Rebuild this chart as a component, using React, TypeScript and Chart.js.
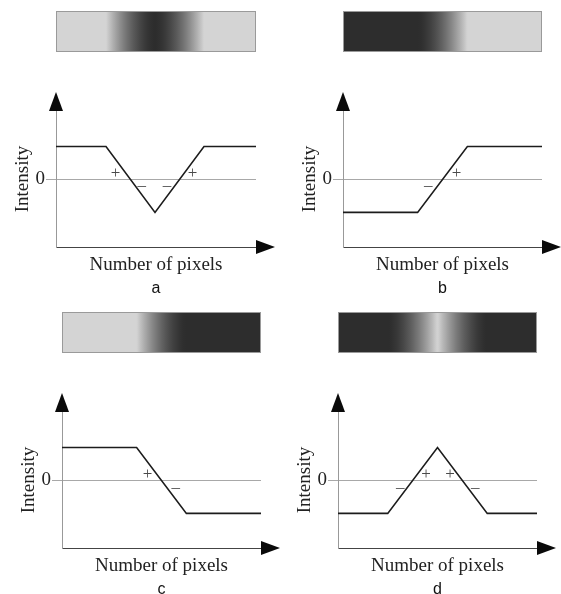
import React, { useEffect, useRef } from "react";
import { Chart, registerables } from "chart.js";

Chart.register(...registerables);

// ---------------- data ----------------
const xTitle = "Number of pixels";
const yTitle = "Intensity";
const yTickValues = [0];

const panelLabels = ["a", "b", "c", "d"];

// pixel position (0..10) and intensity for each profile
const pixelsA = [0, 2.5, 4.95, 7.4, 10];
const intensityA = [1, 1, -1, 1, 1];

const pixelsB = [0, 3.75, 6.25, 10];
const intensityB = [-1, -1, 1, 1];

const pixelsC = [0, 3.75, 6.25, 10];
const intensityC = [1, 1, -1, -1];

const pixelsD = [0, 2.5, 5, 7.5, 10];
const intensityD = [-1, -1, 1, -1, -1];

// sign annotations (x in pixels, y in intensity)
const signsA = [
  { x: 2.98, y: 0.18, t: "+" },
  { x: 4.29, y: -0.17, t: "\u2013" },
  { x: 5.55, y: -0.17, t: "\u2013" },
  { x: 6.83, y: 0.18, t: "+" },
];
const signsB = [
  { x: 4.29, y: -0.17, t: "\u2013" },
  { x: 5.71, y: 0.19, t: "+" },
];
const signsC = [
  { x: 4.3, y: 0.19, t: "+" },
  { x: 5.72, y: -0.2, t: "\u2013" },
];
const signsD = [
  { x: 3.13, y: -0.2, t: "\u2013" },
  { x: 4.42, y: 0.19, t: "+" },
  { x: 5.63, y: 0.19, t: "+" },
  { x: 6.9, y: -0.2, t: "\u2013" },
];

// ---------------- styling ----------------
const SERIF = '"Liberation Serif", "Times New Roman", serif';
const SANS = '"Liberation Sans", Arial, sans-serif';
const LIGHT = 212;
const DARK = 45;
const GAMMA = 1.6;

type Sign = { x: number; y: number; t: string };

function shade(v: number) {
  const t = Math.min(1, Math.max(0, (v + 1) / 2));
  const g = Math.round(DARK + Math.pow(t, GAMMA) * (LIGHT - DARK));
  return `rgb(${g},${g},${g})`;
}

function interp(xs: number[], ys: number[], xv: number) {
  for (let i = 0; i < xs.length - 1; i++) {
    if (xv >= xs[i] && xv <= xs[i + 1]) {
      const f = (xv - xs[i]) / (xs[i + 1] - xs[i] || 1);
      return ys[i] + f * (ys[i + 1] - ys[i]);
    }
  }
  return ys[ys.length - 1];
}

function makeDeco(xs: number[], ys: number[], signs: Sign[]) {
  return {
    id: "deco",
    afterDraw(chart: any) {
      const { ctx, chartArea: ca, scales } = chart;
      const xS = scales.x;
      const yS = scales.y;
      ctx.save();
      // gradient bar derived from the profile
      const barTop = ca.top - 100;
      const barH = 41;
      const w = ca.right - ca.left;
      const grad = ctx.createLinearGradient(ca.left, 0, ca.right, 0);
      const steps = Math.round(w);
      for (let p = 0; p <= steps; p++) {
        const px = ca.left + (p / steps) * w;
        const xv = xS.getValueForPixel(px);
        grad.addColorStop(p / steps, shade(interp(xs, ys, xv)));
      }
      ctx.fillStyle = grad;
      ctx.fillRect(ca.left, barTop, w, barH);
      ctx.strokeStyle = "#9a9a9a";
      ctx.lineWidth = 1;
      ctx.strokeRect(ca.left + 0.5, barTop + 0.5, w - 1, barH - 1);

      // arrows
      ctx.fillStyle = "#0a0a0a";
      ctx.beginPath();
      ctx.moveTo(ca.left - 7, ca.top);
      ctx.lineTo(ca.left + 7, ca.top);
      ctx.lineTo(ca.left, ca.top - 19);
      ctx.closePath();
      ctx.fill();
      ctx.beginPath();
      ctx.moveTo(ca.right, ca.bottom - 7);
      ctx.lineTo(ca.right, ca.bottom + 7);
      ctx.lineTo(ca.right + 19, ca.bottom);
      ctx.closePath();
      ctx.fill();

      // signs
      ctx.font = `17px ${SERIF}`;
      ctx.fillStyle = "#4a4a4a";
      ctx.textAlign = "center";
      ctx.textBaseline = "middle";
      signs.forEach((s) => {
        ctx.fillText(s.t, xS.getPixelForValue(s.x), yS.getPixelForValue(s.y));
      });
      ctx.restore();
    },
  };
}

type PanelProps = {
  left: number;
  top: number;
  padLeft: number;
  padRight: number;
  xs: number[];
  ys: number[];
  signs: Sign[];
  label: string;
};

const CANVAS_W = 281;
const CANVAS_H = 300;

function Panel({ left, top, padLeft, padRight, xs, ys, signs, label }: PanelProps) {
  const ref = useRef<HTMLCanvasElement | null>(null);
  useEffect(() => {
    if (!ref.current) return;
    const chart = new Chart(ref.current, {
      type: "line",
      data: {
        datasets: [
          {
            data: xs.map((x, i) => ({ x, y: ys[i] })),
            borderColor: "#1c1c1c",
            borderWidth: 1.6,
            pointRadius: 0,
            tension: 0,
            fill: false,
          },
        ],
      },
      options: {
        animation: false,
        responsive: false,
        devicePixelRatio: 1,
        layout: { padding: { left: padLeft, right: padRight, top: 111, bottom: 2.3 } },
        plugins: {
          legend: { display: false },
          tooltip: { enabled: false },
          title: {
            display: true,
            text: label,
            position: "bottom",
            fullSize: false,
            font: { family: SANS, size: 16, weight: "normal" },
            color: "#111",
            padding: { top: 1.5, bottom: 0 },
          },
        },
        scales: {
          x: {
            type: "linear",
            min: 0,
            max: 10,
            ticks: { display: false },
            grid: { display: false },
            border: { display: true, color: "#444", width: 1 },
            title: {
              display: true,
              text: xTitle,
              font: { family: SERIF, size: 19 },
              color: "#222",
              padding: { top: 0, bottom: 1 },
            },
            afterFit: (s: any) => {
              s.height = 30;
            },
          },
          y: {
            type: "linear",
            min: -2.05,
            max: 2.08,
            afterBuildTicks: (s: any) => {
              s.ticks = yTickValues.map((v) => ({ value: v }));
            },
            ticks: {
              padding: 1,
              font: { family: SERIF, size: 19 },
              color: "#222",
              callback: (v: any) => String(v),
            },
            grid: { color: "#a8a8a8", lineWidth: 1, tickLength: 10, drawTicks: true },
            border: { display: true, color: "#999", width: 1 },
            title: {
              display: true,
              text: yTitle,
              font: { family: SERIF, size: 19 },
              color: "#222",
              padding: { top: 5.6, bottom: 0 },
            },
            afterFit: (s: any) => {
              s.width = 50;
            },
          },
        },
      } as any,
      plugins: [makeDeco(xs, ys, signs)],
    });
    return () => chart.destroy();
  }, []);
  return (
    <div style={{ position: "absolute", left, top, width: CANVAS_W, height: CANVAS_H }}>
      <canvas ref={ref} width={CANVAS_W} height={CANVAS_H} style={{ display: "block" }} />
    </div>
  );
}

export default function App() {
  return (
    <div
      style={{
        position: "absolute",
        left: 0,
        top: 0,
        width: 561,
        height: 594,
        overflow: "hidden",
        background: "#fff",
      }}
    >
      <Panel left={0} top={0} padLeft={6} padRight={25} xs={pixelsA} ys={intensityA} signs={signsA} label={panelLabels[0]} />
      <Panel left={280} top={0} padLeft={13} padRight={19} xs={pixelsB} ys={intensityB} signs={signsB} label={panelLabels[1]} />
      <Panel left={0} top={301} padLeft={12} padRight={20} xs={pixelsC} ys={intensityC} signs={signsC} label={panelLabels[2]} />
      <Panel left={280} top={301} padLeft={8} padRight={24} xs={pixelsD} ys={intensityD} signs={signsD} label={panelLabels[3]} />
    </div>
  );
}
